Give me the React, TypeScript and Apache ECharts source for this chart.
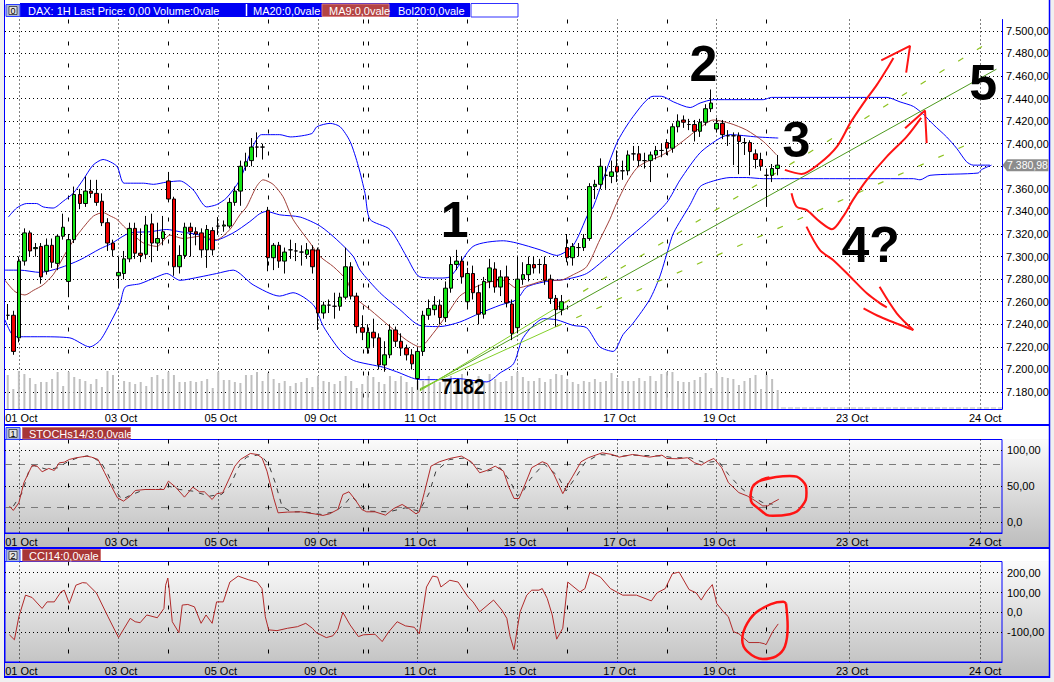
import React, { useEffect, useRef } from 'react';
import * as echarts from 'echarts';

const SLOTS = 180;
const FONT = '"Liberation Sans", Arial, Helvetica, sans-serif';
const BLUE = '#0000ff';
const GREEN = '#14e614';
const RED = '#f00000';
const PEN = '#ff1414';

const dayLabels: [number, string][] = [
  [2, '01 Oct'], [20, '03 Oct'], [38, '05 Oct'], [56, '09 Oct'], [74, '11 Oct'],
  [92, '15 Oct'], [110, '17 Oct'], [128, '19 Oct'], [152, '23 Oct'], [176, '24 Oct'],
];
const majorDayLines = [2, 20, 38, 56, 74, 92, 110, 128, 152, 175.5];
const minorDayLines = [11, 29, 47, 64.2, 65, 83, 101, 119, 137];

const priceTicks = [7180, 7200, 7220, 7240, 7260, 7280, 7300, 7320, 7340, 7360, 7380, 7400, 7420, 7440, 7460, 7480, 7500];
const stochTicks = [0, 50, 100];
const stochBands = [20, 80];
const cciTicks = [-100, 0, 100, 200];

// [open, close, low, high] per hourly bar
const candles: number[][] = [
  [7248, 7248, 7244, 7258], [7248, 7216, 7213, 7252], [7228, 7296, 7224, 7300], [7296, 7321, 7292, 7325],
  [7321, 7305, 7300, 7323], [7307, 7308, 7300, 7312], [7309, 7282, 7276, 7312], [7287, 7310, 7284, 7316],
  [7310, 7295, 7290, 7316], [7294, 7318, 7288, 7320], [7318, 7326, 7315, 7338], [7278, 7315, 7264, 7320],
  [7315, 7355, 7312, 7362], [7355, 7347, 7342, 7360], [7347, 7358, 7344, 7371], [7358, 7356, 7352, 7368],
  [7356, 7348, 7345, 7368], [7349, 7330, 7327, 7356], [7330, 7312, 7305, 7334], [7312, 7306, 7300, 7315],
  [7283, 7286, 7272, 7300], [7285, 7298, 7280, 7305], [7298, 7325, 7295, 7330], [7325, 7303, 7298, 7330],
  [7303, 7301, 7295, 7325], [7302, 7328, 7298, 7336], [7329, 7312, 7295, 7338], [7312, 7316, 7305, 7330],
  [7316, 7322, 7310, 7336], [7367, 7351, 7348, 7375], [7351, 7291, 7283, 7353], [7291, 7301, 7285, 7310],
  [7301, 7326, 7298, 7330], [7326, 7322, 7300, 7330], [7322, 7320, 7310, 7326], [7321, 7306, 7299, 7325],
  [7306, 7324, 7290, 7328], [7323, 7306, 7301, 7326], [7327, 7327, 7320, 7335], [7327, 7328, 7322, 7332],
  [7327, 7348, 7325, 7352], [7348, 7358, 7345, 7362], [7358, 7380, 7345, 7385], [7380, 7384, 7376, 7392],
  [7385, 7397, 7380, 7405], [7397, 7397, 7388, 7410], [7397, 7397, 7386, 7400], [7341, 7299, 7287, 7344],
  [7299, 7310, 7288, 7312], [7310, 7296, 7290, 7313], [7296, 7304, 7285, 7308], [7306, 7306, 7298, 7315],
  [7305, 7305, 7296, 7312], [7304, 7304, 7292, 7310], [7302, 7306, 7298, 7312], [7306, 7291, 7285, 7310],
  [7306, 7250, 7235, 7308], [7250, 7257, 7245, 7260], [7257, 7257, 7250, 7262], [7256, 7256, 7245, 7268],
  [7256, 7264, 7252, 7268], [7264, 7291, 7262, 7308], [7291, 7265, 7262, 7295], [7265, 7238, 7232, 7268],
  [7237, 7233, 7226, 7248], [7219, 7233, 7214, 7240], [7233, 7228, 7220, 7245], [7228, 7204, 7200, 7232],
  [7204, 7213, 7198, 7225], [7213, 7235, 7210, 7240], [7235, 7225, 7220, 7238], [7225, 7219, 7212, 7232],
  [7219, 7213, 7208, 7222], [7213, 7205, 7200, 7218], [7192, 7216, 7182, 7220], [7216, 7248, 7212, 7252],
  [7248, 7254, 7244, 7262], [7253, 7257, 7248, 7265], [7257, 7246, 7240, 7262], [7246, 7272, 7242, 7278],
  [7272, 7293, 7268, 7300], [7293, 7296, 7288, 7306], [7296, 7282, 7276, 7300], [7260, 7285, 7255, 7290],
  [7285, 7268, 7262, 7292], [7268, 7249, 7240, 7275], [7249, 7278, 7245, 7282], [7278, 7290, 7272, 7298],
  [7289, 7273, 7268, 7295], [7273, 7282, 7265, 7288], [7282, 7259, 7255, 7292], [7258, 7232, 7226, 7262],
  [7237, 7280, 7232, 7300], [7280, 7284, 7275, 7295], [7284, 7293, 7278, 7300], [7293, 7290, 7285, 7300],
  [7293, 7293, 7285, 7298], [7293, 7279, 7275, 7300], [7280, 7263, 7258, 7284], [7263, 7253, 7238, 7266],
  [7253, 7260, 7248, 7266], [7308, 7299, 7295, 7320], [7299, 7309, 7292, 7312], [7308, 7308, 7300, 7312],
  [7308, 7316, 7305, 7320], [7316, 7362, 7314, 7365], [7362, 7364, 7351, 7368], [7364, 7380, 7360, 7387],
  [7372, 7372, 7360, 7380], [7371, 7375, 7365, 7385], [7380, 7375, 7366, 7394], [7376, 7376, 7368, 7385],
  [7376, 7390, 7372, 7394], [7391, 7391, 7385, 7398], [7391, 7385, 7380, 7398], [7385, 7385, 7378, 7392],
  [7385, 7390, 7366, 7393], [7390, 7394, 7386, 7398], [7394, 7394, 7388, 7400], [7401, 7396, 7390, 7404],
  [7396, 7415, 7392, 7418], [7415, 7420, 7410, 7426], [7421, 7419, 7414, 7425], [7417, 7417, 7412, 7422],
  [7417, 7411, 7402, 7421], [7411, 7419, 7406, 7422], [7419, 7431, 7416, 7435], [7431, 7436, 7428, 7448],
  [7413, 7418, 7410, 7423], [7418, 7408, 7404, 7421], [7407, 7407, 7398, 7412], [7407, 7407, 7381, 7410],
  [7407, 7402, 7373, 7410], [7401, 7401, 7390, 7405], [7401, 7393, 7372, 7403], [7391, 7386, 7378, 7395],
  [7386, 7380, 7376, 7392], [7372, 7372, 7344, 7378], [7372, 7378, 7366, 7382], [7378, 7381, 7372, 7390],
];

const volume: number[] = [
  34, 20, 38, 35, 31, 25, 27, 27, 30, 37, 23, 37, 32, 30, 28, 25, 30, 22, 38, 34,
  19, 28, 27, 25, 27, 23, 32, 34, 30, 37, 34, 27, 27, 28, 27, 28, 30, 21, 37, 29,
  29, 27, 26, 34, 34, 37, 28, 36, 30, 26, 28, 23, 26, 27, 31, 22, 33, 28, 27, 25,
  28, 33, 28, 21, 25, 33, 32, 27, 25, 33, 28, 33, 27, 22, 28, 28, 33, 27, 27, 30,
  33, 28, 35, 28, 27, 33, 27, 35, 30, 27, 28, 33, 37, 32, 28, 28, 31, 27, 30, 35,
  34, 30, 27, 25, 28, 27, 30, 27, 28, 36, 31, 28, 28, 28, 31, 28, 33, 28, 35, 37,
  37, 28, 27, 27, 29, 32, 36, 21, 36, 32, 31, 30, 24, 28, 31, 34, 20, 34, 30, 19,
];
const futureVolume = [[139.6, 1], [179.5, 1]];

const bbUpper = [
  [0.1, 7335], [1.6, 7343], [3.4, 7347], [5.2, 7347], [6.4, 7344], [8.2, 7343], [10, 7349], [11.8, 7356],
  [13.6, 7368], [15.4, 7381], [17.2, 7386], [19.7, 7380], [21, 7365], [24.5, 7365], [26.3, 7364], [28.7, 7366],
  [31.1, 7367], [33.5, 7359], [35.9, 7344], [37.7, 7346], [39.5, 7352], [41.9, 7368], [44.3, 7398], [45.8, 7408],
  [49.1, 7408], [51, 7406], [54.9, 7409], [55.8, 7415], [58.2, 7418], [60, 7415], [61.8, 7402], [63.3, 7380],
  [64.5, 7356], [65.4, 7333], [69, 7324], [72, 7300], [74.4, 7282], [78, 7281], [79.8, 7282], [84, 7309],
  [89.5, 7314], [91.9, 7312], [96.1, 7306], [99.1, 7301], [102.1, 7310], [104.8, 7338], [105.7, 7344],
  [109.9, 7400], [112.9, 7424], [116.5, 7442], [118, 7442], [120.2, 7437], [123.2, 7432], [125, 7436],
  [127.4, 7439], [136.4, 7439], [137.9, 7441], [158.7, 7441], [161.1, 7437], [163.5, 7433], [165.3, 7426],
  [167.1, 7417], [169.5, 7406], [171.3, 7396], [173.1, 7384], [174.3, 7381], [177.3, 7381],
];
const bbMid = [
  [-0.5, 7288], [2.2, 7288], [5.8, 7286], [9.4, 7290], [13, 7297], [16.7, 7307], [18.5, 7311], [22.1, 7321],
  [25.7, 7322], [28.7, 7324], [31.1, 7322], [34.7, 7319], [37.1, 7314], [40.7, 7321], [43.7, 7331], [45.5, 7338],
  [46.7, 7340], [49.1, 7337], [52.8, 7335], [56.4, 7327], [59.4, 7315], [62.4, 7300], [63.6, 7288], [67.2, 7268],
  [70.8, 7253], [74.4, 7239], [78, 7238], [81.6, 7242], [85.3, 7250], [88.9, 7257], [91.9, 7262], [93.7, 7273],
  [97.3, 7278], [100.9, 7280], [104.5, 7285], [108.1, 7299], [111.7, 7315], [115.3, 7330], [119, 7348],
  [121.4, 7368], [125, 7392], [128.6, 7405], [130.4, 7408], [135.2, 7406], [139.1, 7405],
];
const bbLower = [
  [-0.5, 7244], [1.3, 7229], [5.8, 7229], [11.2, 7228], [14.8, 7220], [16.7, 7226], [18.8, 7244], [20.3, 7259],
  [21.2, 7273], [23.9, 7276], [26.9, 7282], [28.7, 7285], [31.1, 7279], [34.7, 7282], [37.7, 7285], [40.7, 7288],
  [44.3, 7275], [49.1, 7265], [51.5, 7268], [55.2, 7257], [57, 7238], [60, 7217], [62.4, 7208], [67.8, 7202],
  [70.2, 7198], [74.4, 7191], [78, 7191], [81, 7192], [86.5, 7189], [88.9, 7197], [91.3, 7205], [92.8, 7226],
  [94.3, 7236], [96.7, 7245], [99.1, 7244], [102.1, 7239], [104.5, 7237], [106.9, 7220], [109.3, 7216],
  [111.1, 7231], [112.9, 7241], [115.9, 7262], [117.7, 7282], [119.2, 7306], [120.2, 7321], [123.2, 7346],
  [125, 7362], [127.4, 7367], [130.4, 7370], [133.4, 7370], [136.4, 7369], [138.8, 7369], [145.4, 7369],
  [163.5, 7369], [164.7, 7368], [166.5, 7372], [175.2, 7374], [175.8, 7377], [177.6, 7381],
];
const ma9 = [
  [-0.5, 7279], [1.3, 7269], [3.1, 7266], [4.6, 7270], [6.4, 7275], [8.2, 7284], [9.4, 7294], [10.9, 7307],
  [12.4, 7318], [14, 7328], [15.5, 7336], [17.2, 7339], [18.5, 7336], [19.7, 7333], [20.9, 7327], [22.7, 7319],
  [24.5, 7312], [26.9, 7309], [29.3, 7319], [31.7, 7316], [34.7, 7318], [37.7, 7315], [40.1, 7324], [41.9, 7337],
  [43.1, 7344], [44.9, 7362], [46.1, 7368], [47.9, 7364], [49.7, 7353], [51.5, 7333], [54.6, 7312], [56.4, 7300],
  [58.8, 7291], [61.2, 7279], [62.4, 7265], [65.4, 7253], [69, 7238], [72, 7226], [74.4, 7220], [76.8, 7232],
  [79.2, 7248], [81.6, 7265], [84, 7272], [86.5, 7277], [89.5, 7279], [91.9, 7272], [94.3, 7275], [97.3, 7279],
  [99.7, 7279], [102.1, 7284], [104.5, 7291], [106.9, 7315], [108.7, 7333], [109.9, 7347], [111.7, 7365],
  [113.5, 7378], [115.3, 7384], [117.8, 7389], [120.2, 7396], [122.6, 7405], [124.4, 7412], [127.4, 7421],
  [130.4, 7418], [133.4, 7412], [136.4, 7402], [138.8, 7390],
];

const fanMain = [[74.4, 7182], [178.5, 7466]];
const fanUpperSolid = [[74.4, 7181], [100.5, 7259]];
const fanUpperDash = [[100.5, 7259], [177.2, 7490]];
const fanLowerSolid = [[74.4, 7183], [99, 7238]];
const fanLowerDash = [[99, 7238], [174.5, 7402]];

const strokeUp = [[140.3, 7376.8], [143.3, 7373.2], [146.6, 7382.7], [149.7, 7397.4], [152.1, 7418.2], [154.5, 7435.9], [156.9, 7452.1], [159, 7468.4], [159.9, 7475.8]];
const strokeUpHead = [[157.7, 7473.7], [162.9, 7486.7], [162.2, 7463]];
const strokeV = [[141.5, 7356.1], [142.4, 7344.3], [144.2, 7341.3], [146.6, 7331], [148.8, 7324.2], [150.8, 7335.4], [152.6, 7350.2], [155.1, 7367.9], [158.7, 7388.6], [162.3, 7406.3], [164.9, 7422.9]];
const strokeVHead = [[162, 7413.7], [165.6, 7429.4], [165.9, 7400.5]];
const strokeDown = [[144.2, 7326.5], [146.6, 7305.9], [149, 7297], [152.1, 7282.2], [155.1, 7267.5], [157.5, 7258.6], [158.7, 7255.1]];
const strokeDownHead1 = [[154.5, 7254.2], [157.5, 7246.7], [163.5, 7234.9]];
const strokeDownHead2 = [[157.4, 7273.3], [160.5, 7249.8], [163.5, 7234.9]];

const stochK = [
  [0.3, 22], [1, 15.9], [2, 26.6], [2.9, 54.7], [4.4, 79], [5.3, 78], [6.2, 70.1], [7.4, 74.8], [8.4, 72], [9.3, 82.7],
  [10.2, 83.6], [11.1, 87.4], [12.3, 89.7], [14.2, 92.1], [15.1, 90.7], [16.3, 87.4], [17.5, 68.7], [18.7, 50], [19.8, 33.6],
  [20.9, 29], [22.1, 36], [23, 43.9], [24.8, 45.3], [26.7, 45.3], [28.2, 45.3], [29, 57], [30.3, 48.6], [31.9, 34.6],
  [33.4, 48.6], [34.6, 42.1], [35.5, 42.1], [36.9, 31.3], [37.7, 39.3], [38.8, 40.7], [40.1, 62.6], [41, 78], [42, 87.4],
  [43.8, 95.8], [45, 94.4], [45.9, 89.7], [46.8, 71], [48, 33.6], [48.8, 12.6], [50.5, 13.6], [52.9, 14], [55.3, 11.2],
  [56.9, 8.9], [58.1, 11.2], [59.6, 17.3], [60.5, 38.3], [61.6, 42.1], [62.7, 31.3], [63.9, 17.3], [64.8, 14], [66.3, 14],
  [68.2, 9.3], [69.7, 18.7], [71.2, 24.3], [72.4, 18.7], [73.7, 11.2], [74.3, 14], [75.2, 40.7], [76.4, 78], [77.9, 84.1],
  [79.8, 88.8], [81.9, 92.1], [83.7, 84.1], [85.2, 68.7], [86.5, 72], [88, 78], [89.5, 71], [90.4, 50], [91.4, 32.7],
  [92.3, 32.7], [93.4, 52.6], [94.6, 75.8], [96.5, 84.2], [97.4, 81.4], [98.6, 66.5], [100.2, 39.5], [100.8, 48], [102, 64],
  [103.5, 84.2], [104.8, 89.8], [107.3, 96.7], [109.1, 94.4], [110.4, 90.7], [112.8, 94.4], [115.9, 90.7], [118.1, 93.5],
  [119, 88.8], [120.9, 88.4], [122.7, 89.8], [124, 82.8], [125.2, 79.5], [126.4, 85.1], [127.5, 88.8], [128.9, 75.8],
  [130.1, 54.9], [132, 40.9], [133.5, 36.3], [135, 29.3], [136.3, 22.3], [137.2, 22.3], [138.1, 27], [139.2, 31.6],
];
const stochD = [
  [1, 22], [2.6, 40.7], [3.8, 71], [4.7, 79], [7.1, 73.4], [9, 75.7], [10.8, 84.1], [12.6, 89.7], [14.8, 93], [16.9, 82.7],
  [18.1, 66.4], [19.3, 45.3], [20.6, 31.3], [22.4, 38.3], [24.8, 45.3], [27.3, 45.3], [29.1, 50], [31, 45.3], [33.4, 43],
  [36.4, 36], [38.6, 38.3], [40.1, 50], [41.6, 75.7], [43.1, 90.7], [45.6, 94.4], [47.1, 80.4], [48.3, 54.7], [49.5, 22],
  [51.1, 14], [53.5, 14], [56.6, 10.3], [59, 14], [60.8, 24.3], [62, 36], [63.6, 24.3], [65.1, 15], [68.8, 14], [71.8, 19.6],
  [74.3, 15], [76.1, 40.7], [77.3, 71], [79.8, 87.4], [82.8, 89.7], [84.6, 75.7], [86.5, 71], [88.9, 75.7], [90.7, 57],
  [92, 36], [93.1, 43.3], [94.3, 59.5], [96.8, 81.4], [99.3, 64.2], [100.8, 43.3], [102.7, 64.2], [104.2, 82.8],
  [106.7, 94.4], [111, 92.1], [112.8, 93.5], [118.4, 92.1], [120.2, 89.8], [123.3, 89.8], [125.8, 82.8], [128.3, 85.1],
  [130.1, 66.5], [132, 50.2], [134.1, 36.3], [136.3, 27], [138.1, 24.7],
];
const cci = [
  [0.3, -113], [1.2, -138], [2, -22], [3.2, 87], [4.4, 75], [6.2, 20], [7.1, 53], [8.4, 53], [9.6, 103], [10.2, 112],
  [11.1, 45], [12.3, 137], [13.5, 150], [14.2, 148], [16, 98], [18.1, -22], [20, -127], [22.1, -30], [23, -47], [23.9, -52],
  [25.1, -13], [27, -27], [28.2, 20], [28.5, 137], [28.9, 173], [29.1, 128], [29.7, -47], [30.9, -102], [31.5, 37],
  [32.5, 40], [33.7, 28], [34.9, -55], [35.8, -13], [36.9, -55], [37.7, 53], [38.9, 53], [40.1, 153], [41.6, 183],
  [43.4, 165], [45, 153], [45.9, 120], [46.5, -22], [47.1, -88], [48.6, -92], [50.5, -80], [52.3, -72], [53.8, -55],
  [55, -80], [55.7, -102], [57.5, -127], [58.7, -118], [59.6, -85], [60.5, 0], [61.8, -63], [63.3, -122], [64.2, -113],
  [66.3, -110], [67.6, -147], [68.8, -97], [70.3, -47], [71.8, -68], [73.4, -75], [74.3, -108], [75.6, 128], [76.7, 183],
  [77.6, 178], [78.2, 128], [79.8, 162], [81.3, 153], [83.1, 78], [84, 53], [85.2, 3], [87.7, 62], [89.2, 12], [90.1, -30],
  [90.7, -122], [91.4, -188], [92, -80], [92.5, 3], [93.7, 87], [94.6, 112], [95.9, 112], [96.5, 120], [97.4, 70],
  [98.3, -13], [99.1, -135], [100.2, -80], [101.1, 153], [103.3, 103], [104.2, 120], [105.1, 203], [107, 178], [108.8, 120],
  [111, 87], [113.5, 87], [116.2, 58], [117.2, 98], [118.7, 120], [120, 195], [121.2, 203], [123, 115], [124.3, 98],
  [125.2, 62], [126.1, 103], [127.2, 140], [128, 45], [129.2, 3], [130.1, -22], [131, -97], [132, -108], [133.8, -152],
  [135.7, -152], [136.6, -158], [136.9, -163], [138.1, -97], [139.1, -58],
];
const stochLoop = [[135.7, 57.2], [141.2, 64.2], [143.4, 58.1], [144.2, 40.9], [143.4, 22.3], [141.2, 10.7], [138.1, 8.4], [135.7, 17.7], [134.1, 34], [134.4, 47.9], [135.7, 57.2], [137.5, 62]];
const cciLoop = [[140.5, 45], [140, 53.3], [135.7, 11.7], [133.5, -55], [132.6, -138.3], [133.5, -196.7], [136.3, -235], [138.7, -221.7], [140.3, -171.7], [140.8, -71.7], [140.5, 45]];

const bigNotes = [
  { text: '1', k: 80.7, p: 7332.5 },
  { text: '2', k: 125.6, p: 7470.6 },
  { text: '3', k: 142.4, p: 7403.4 },
  { text: '4?', k: 155.8, p: 7310.3 },
  { text: '5', k: 176.1, p: 7453.6 },
];
const lowNote = { text: '7182', k: 82.2, p: 7184.9 };
const lastPrice = 7380.98;

function deFmt(v: number): string {
  if (v === 0) return '0,0';
  const neg = v < 0;
  const [ip, dp] = Math.abs(v).toFixed(2).split('.');
  return (neg ? '-' : '') + ip.replace(/\B(?=(\d{3})+(?!\d))/g, '.') + ',' + dp;
}

const cats = Array.from({ length: SLOTS }, (_, i) => {
  const f = dayLabels.find((d) => d[0] === i);
  return f ? f[1] : '';
});

const gridDefs = [
  { left: 5, top: 19.5, width: 997, height: 389.5 },
  { left: 5, top: 439.5, width: 997, height: 93.5 },
  { left: 5, top: 561.5, width: 997, height: 100.5 },
];

function xAxesFor(g: number) {
  return [
    {
      type: 'category', gridIndex: g, data: cats, boundaryGap: true,
      axisLine: { show: true, onZero: false, lineStyle: { color: BLUE, width: 1 } },
      axisTick: { show: false },
      axisLabel: { interval: 0, fontSize: 11, color: '#000', fontFamily: FONT, margin: 3, padding: [0, 0, 0, 5] },
      splitLine: { show: false },
    },
    {
      type: 'value', gridIndex: g, min: -0.5, max: SLOTS - 0.5,
      axisLine: { show: false, onZero: false }, axisLabel: { show: false },
      axisTick: { show: false, customValues: majorDayLines },
      splitLine: { show: true, customValues: majorDayLines, lineStyle: { color: '#000', width: 1, type: [1, 3] } },
    },
    {
      type: 'value', gridIndex: g, min: -0.5, max: SLOTS - 0.5,
      axisLine: { show: false, onZero: false }, axisLabel: { show: false },
      axisTick: { show: false, customValues: minorDayLines },
      splitLine: { show: true, customValues: minorDayLines, lineStyle: { color: '#000', width: 1, type: [4, 18] } },
    },
  ];
}

const yLabel = { fontSize: 11, color: '#000', fontFamily: FONT, formatter: (v: number) => deFmt(v) };
// the 7.380 label sits under the last-price tag in the reference
const priceLabelTicks = priceTicks.filter((v) => v !== 7380);

function line(data: number[][], xi: number, yi: number, color: string, width: number, extra: any = {}) {
  return {
    type: 'line', xAxisIndex: xi, yAxisIndex: yi, data, symbol: 'none', silent: true,
    lineStyle: { color, width, ...(extra.lineStyle || {}) },
    smooth: extra.smooth ?? 0, z: extra.z ?? 3,
  };
}

function buildOption(): any {
  return {
    animation: false,
    backgroundColor: '#f0f0f0',
    grid: gridDefs.map((g, i) => ({ ...g, show: i > 0, borderColor: BLUE, borderWidth: 1, backgroundColor: 'transparent' })),
    xAxis: [...xAxesFor(0), ...xAxesFor(1), ...xAxesFor(2)],
    yAxis: [
      {
        type: 'value', gridIndex: 0, position: 'right', min: 7165, max: 7510,
        axisLine: { show: true, onZero: false, lineStyle: { color: BLUE, width: 1 } },
        axisTick: { show: false, customValues: priceTicks },
        axisLabel: { ...yLabel, margin: 4, customValues: priceLabelTicks },
        splitLine: { show: true, customValues: priceTicks, lineStyle: { color: '#000', width: 1, type: [1, 3] } },
      },
      { type: 'value', gridIndex: 0, min: 0, max: 389.5, show: false },
      {
        type: 'value', gridIndex: 1, position: 'right', min: -15.7, max: 115.4,
        axisLine: { show: false, onZero: false }, axisTick: { show: false, customValues: stochTicks },
        axisLabel: { ...yLabel, margin: 5, customValues: stochTicks },
        splitLine: { show: true, customValues: stochTicks, lineStyle: { color: '#000', width: 1, type: [1, 3] } },
      },
      {
        type: 'value', gridIndex: 1, position: 'right', min: -15.7, max: 115.4,
        axisLine: { show: false, onZero: false }, axisLabel: { show: false },
        axisTick: { show: false, customValues: stochBands },
        splitLine: { show: true, customValues: stochBands, lineStyle: { color: '#7a7a7a', width: 1, type: [7, 6] } },
      },
      {
        type: 'value', gridIndex: 2, position: 'right', min: -250, max: 256.5,
        axisLine: { show: false, onZero: false }, axisTick: { show: false, customValues: cciTicks },
        axisLabel: { ...yLabel, margin: 5, customValues: cciTicks },
        splitLine: { show: true, customValues: cciTicks, lineStyle: { color: '#000', width: 1, type: [1, 3] } },
      },
    ],
    series: [
      { type: 'bar', xAxisIndex: 0, yAxisIndex: 1, data: volume, barWidth: 2, silent: true, itemStyle: { color: '#c0c0c0' }, z: 1 },
      line(futureVolume, 1, 1, '#b8b8b8', 1, { lineStyle: { type: [5, 2] }, z: 1 }),
      {
        type: 'candlestick', xAxisIndex: 0, yAxisIndex: 0, data: candles, barWidth: 4, silent: true, z: 4,
        itemStyle: { color: GREEN, color0: RED, borderColor: '#000', borderColor0: '#000', borderWidth: 1 },
      },
      line(bbUpper, 1, 0, BLUE, 1, { smooth: 0.25 }),
      line(bbMid, 1, 0, BLUE, 1, { smooth: 0.25 }),
      line(bbLower, 1, 0, BLUE, 1, { smooth: 0.25 }),
      line(ma9, 1, 0, '#a0403a', 1, { smooth: 0.25 }),
      line(fanMain, 1, 0, '#4e9a1e', 1),
      line(fanUpperSolid, 1, 0, '#84d02a', 1),
      line(fanUpperDash, 1, 0, '#8cc21e', 1.2, { lineStyle: { type: [6, 16] } }),
      line(fanLowerSolid, 1, 0, '#84d02a', 1),
      line(fanLowerDash, 1, 0, '#8cc21e', 1.2, { lineStyle: { type: [6, 16] } }),
      line(strokeUp, 1, 0, PEN, 2, { smooth: 0.3, z: 6 }),
      line(strokeUpHead, 1, 0, PEN, 2, { z: 6 }),
      line(strokeV, 1, 0, PEN, 2, { smooth: 0.3, z: 6 }),
      line(strokeVHead, 1, 0, PEN, 2, { z: 6 }),
      line(strokeDown, 1, 0, PEN, 2, { smooth: 0.3, z: 6 }),
      line(strokeDownHead1, 1, 0, PEN, 2, { smooth: 0.3, z: 6 }),
      line(strokeDownHead2, 1, 0, PEN, 2, { smooth: 0.3, z: 6 }),
      line(stochD, 4, 2, '#3a3a3a', 1, { lineStyle: { type: [5, 6] } }),
      line(stochK, 4, 2, '#b02a2a', 1),
      line(stochLoop, 4, 2, PEN, 2.5, { smooth: 0.5, z: 6 }),
      line(cci, 7, 4, '#b02a2a', 1),
      line(cciLoop, 7, 4, PEN, 2.5, { smooth: 0.4, z: 6 }),
    ],
  };
}

function rect(x: number, y: number, w: number, h: number, style: any, z = -1) {
  return { type: 'rect', z, silent: true, shape: { x, y, width: w, height: h }, style };
}
function seg(x1: number, y1: number, x2: number, y2: number, stroke: string, lineWidth: number, z = 40) {
  return { type: 'line', z, silent: true, shape: { x1, y1, x2, y2 }, style: { stroke, lineWidth } };
}
function txt(x: number, y: number, text: string, font: string, fill: string, align = 'left', z = 45, extra: any = {}) {
  return { type: 'text', z, silent: true, x, y, ...extra, style: { text, font, fill, textAlign: align, textVerticalAlign: 'middle' } };
}
function icon(x: number, y: number, label: string) {
  return [
    rect(x, y, 14, 12, { fill: '#aab4d8', stroke: '#2a3cff', lineWidth: 1 }, 41),
    rect(x + 3, y + 2, 8, 8, { fill: '#e4e4e4', stroke: '#000', lineWidth: 0.6 }, 42),
    txt(x + 7, y + 6.2, label, `9px ${FONT}`, '#000', 'center', 43),
  ];
}

function chrome(): any[] {
  const grad = new echarts.graphic.LinearGradient(0, 0, 0, 1, [
    { offset: 0, color: '#fbfbfb' }, { offset: 1, color: '#bcbcbc' },
  ]);
  const f11 = `11px ${FONT}`;
  return [
    rect(5, 0, 1044, 424, { fill: '#ffffff' }, -2),
    rect(5, 426, 1044, 13.5, { fill: '#ffffff' }, -2),
    rect(5, 439.5, 1044, 108, { fill: grad }, -2),
    rect(5, 549, 1044, 12.5, { fill: '#ffffff' }, -2),
    rect(5, 561.5, 1044, 115.5, { fill: grad }, -2),
    // frame
    seg(4.5, 0, 4.5, 678, BLUE, 1),
    seg(1049.5, 0, 1049.5, 678, BLUE, 1.5),
    seg(4, 425, 1050, 425, BLUE, 2),
    seg(4, 548, 1050, 548, BLUE, 2),
    seg(4, 677, 1050, 677, BLUE, 2),
    // price header
    rect(20, 3, 450, 14, { fill: '#0000f4' }, 40),
    seg(246.5, 4, 246.5, 16, '#ffffff', 1.5, 41),
    rect(322, 4, 67, 12.5, { fill: '#b44444', stroke: '#d88080', lineWidth: 1 }, 41),
    rect(471, 3.5, 47, 13.5, { fill: '#ffffff', stroke: '#3030ff', lineWidth: 1 }, 40),
    txt(28, 10.5, 'DAX: 1H Last Price: 0,00 Volume:0vale', f11, '#ffffff'),
    txt(253, 10.5, 'MA20:0,0vale', f11, '#ffffff'),
    txt(329, 10.5, 'MA9:0,0vale', f11, '#ffffff'),
    txt(398, 10.5, 'Bol20:0,0vale', f11, '#ffffff'),
    ...icon(6, 4.5, '0'),
    // stoch header
    rect(22.5, 427.5, 108, 11.5, { fill: '#a83636', stroke: '#cc7070', lineWidth: 1 }, 41),
    txt(29, 433.5, 'STOCHs14/3:0,0vale', f11, '#ffffff'),
    ...icon(6, 427.5, '1'),
    // cci header
    rect(22.5, 549.5, 78, 11.5, { fill: '#a83636', stroke: '#cc7070', lineWidth: 1 }, 41),
    txt(29, 555.5, 'CCI14:0,0vale', f11, '#ffffff'),
    ...icon(6, 549.5, '2'),
  ];
}

export default function App() {
  const ref = useRef<HTMLDivElement>(null);
  useEffect(() => {
    if (!ref.current) return;
    const chart = echarts.init(ref.current, null, { renderer: 'svg' });
    chart.setOption(buildOption());
    const toPx = (pt: number[]) => chart.convertToPixel({ xAxisIndex: 1, yAxisIndex: 0 } as any, pt) as number[];
    const notes: any[] = bigNotes.map((n) => {
      const [x, y] = toPx([n.k, n.p]);
      return txt(x, y, n.text, `bold 50px ${FONT}`, '#000', 'center', 60);
    });
    const [lx, ly] = toPx([lowNote.k, lowNote.p]);
    notes.push(txt(lx, ly, lowNote.text, `bold 22px ${FONT}`, '#000', 'center', 60, { scaleX: 0.88 }));
    const [, ty] = toPx([139, lastPrice]);
    const tag = [
      { type: 'polygon', z: 60, silent: true, shape: { points: [[1002.5, ty], [1007, ty - 6], [1048.5, ty - 6], [1048.5, ty + 6], [1007, ty + 6]] }, style: { fill: '#8c8c8c' } },
      txt(1027.5, ty, deFmt(lastPrice), `10.5px ${FONT}`, '#ffffff', 'center', 61),
    ];
    chart.setOption({ graphic: [...chrome(), ...notes, ...tag] });
    return () => chart.dispose();
  }, []);
  return <div ref={ref} style={{ position: 'fixed', left: 0, top: 0, width: 1054, height: 682 }} />;
}
